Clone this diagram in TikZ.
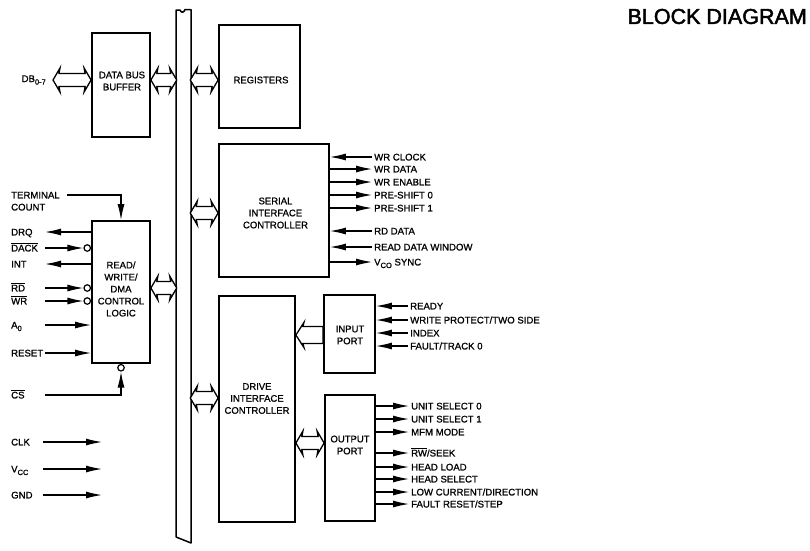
\documentclass[tikz,border=0pt]{standalone}
\usepackage{fontspec}
\setmainfont{Liberation Sans}[FakeBold=1.0]
\newfontfamily\titlefont{Liberation Sans}[FakeBold=2.2]
\usetikzlibrary{arrows.meta,calc}
\newcommand\ovl[1]{$\overline{\mbox{#1}}$}
\newcommand\lsub[1]{\raisebox{-0.5ex}{\fontsize{7.5}{8}\selectfont #1}}
\tikzset{
 box/.style={draw, line width=1.8pt, inner sep=0pt},
 btxt/.style={align=center, font=\fontsize{9.5}{12}\selectfont, inner sep=0pt},
 lbl/.style={anchor=west, font=\fontsize{9.6}{11}\selectfont, inner xsep=2pt, inner ysep=0pt, text height=6.9pt, text depth=0pt},
 sig/.style={line width=1.2pt},
 ar/.style={-{Latex[length=16pt,width=7pt]}},
 arin/.style={{Latex[length=16pt,width=7pt]}-},
 arout/.style={-{Latex[length=16pt,width=7pt]}},
 bub/.style={circle, draw, line width=1.2pt, minimum size=6.5pt, inner sep=0pt, fill=white},
 hol/.style={draw, line width=1.3pt, fill=white, line join=miter},
}
\newcommand\dblarrow[2]{\path[hol] let \p1=#1, \p2=#2 in (\x1,\y1) -- (\x1+7pt,\y1+12pt) -- (\x1+6pt,\y1+6.5pt) -- (\x2-6pt,\y1+6.5pt) -- (\x2-7pt,\y1+12pt) -- (\x2,\y1) -- (\x2-7pt,\y1-12pt) -- (\x2-6pt,\y1-6.5pt) -- (\x1+6pt,\y1-6.5pt) -- (\x1+7pt,\y1-12pt) -- cycle;}
\newcommand\sglarrow[2]{\path[hol] let \p1=#1, \p2=#2 in (\x1,\y1) -- (\x1+8pt,\y1+12.5pt) -- (\x1+7pt,\y1+8.5pt) -- (\x2,\y1+8.5pt) -- (\x2,\y1-8.5pt) -- (\x1+7pt,\y1-8.5pt) -- (\x1+8pt,\y1-12.5pt) -- cycle;}
\begin{document}
\begin{tikzpicture}[x=1pt,y=-1pt]
\useasboundingbox (0,0) rectangle (810,550);
% title
\node[anchor=east, font=\titlefont\fontsize{21.5}{24}\selectfont, inner sep=0pt] (title) at (807,16.5) {BLOCK DIAGRAM};
% bus
\draw[line width=1.5pt, line join=round] (176,537) -- (176,10) -- (180,10) .. controls (181,13) and (184,13) .. (185,9.5) -- (191,9.5) -- (191,543) .. controls (186,541) and (180,538.5) .. (176,537);
\coordinate (busL) at (176.7,0);
\coordinate (busR) at (190.3,0);
% boxes
\node[box, minimum width=58pt, minimum height=104pt] (buf) at (121,85) {};
\node[box, minimum width=81pt, minimum height=103pt] (regs) at (259.5,76.5) {};
\node[box, minimum width=110pt, minimum height=133pt] (sic) at (274,210.5) {};
\node[box, minimum width=76pt, minimum height=226pt] (dic) at (257,409) {};
\node[box, minimum width=51pt, minimum height=78pt] (inp) at (349.5,334) {};
\node[box, minimum width=50pt, minimum height=126pt] (outp) at (350,458) {};
\node[box, minimum width=58pt, minimum height=142pt] (rw) at (121,292) {};
% box texts
\node[btxt] (buft) at (122,81) {DATA BUS\\BUFFER};
\node[btxt] (regst) at (261,80) {REGISTERS};
\node[btxt] (sict) at (275.5,213) {SERIAL\\INTERFACE\\CONTROLLER};
\node[btxt] (dict) at (257,398.5) {DRIVE\\INTERFACE\\CONTROLLER};
\node[btxt] (inpt) at (350,335) {INPUT\\PORT};
\node[btxt] (outpt) at (350,445) {OUTPUT\\PORT};
\node[btxt] (rwt) at (121,289) {READ/\\WRITE/\\DMA\\CONTROL\\LOGIC};
% hollow bus arrows
\coordinate (y80) at (0,80);
\coordinate (y213) at (0,213);
\coordinate (y288) at (0,288);
\coordinate (y398) at (0,398);
\coordinate (y443) at (0,443);
\coordinate (y335) at (0,335);
\coordinate (dbT) at (53,80);
\dblarrow{(dbT)}{(buf.west |- dbT)}
\dblarrow{(buf.east |- y80)}{(busL |- y80)}
\dblarrow{(busR |- y80)}{(regs.west |- y80)}
\dblarrow{(busR |- y213)}{(sic.west |- y213)}
\dblarrow{(rw.east |- y288)}{(busL |- y288)}
\dblarrow{(busR |- y398)}{(dic.west |- y398)}
\dblarrow{(dic.east |- y443)}{(outp.west |- y443)}
\sglarrow{(dic.east |- y335)}{(inp.west |- y335)}
\node[anchor=east, font=\fontsize{9.6}{11}\selectfont, inner sep=0pt] (db) at (46,80) {DB\lsub{0-7}};
% serial interface signals
\foreach \n/\y/\t/\d in {1/157/{WR CLOCK}/arin, 2/169/{WR DATA}/arout, 3/182/{WR ENABLE}/arout, 4/195/{PRE-SHIFT 0}/arout, 5/208/{PRE-SHIFT 1}/arout, 6/231/{RD DATA}/arin, 7/247/{READ DATA WINDOW}/arin, 8/262/{V\lsub{CO} SYNC}/arout}{
  \node[lbl] (s\n) at (372,\y) {\t};
  \draw[sig,\d] (sic.east |- s\n.west) -- (s\n.west);
}
% input port signals
\foreach \n/\y/\t in {1/306/{READY}, 2/320/{WRITE PROTECT/TWO SIDE}, 3/333/{INDEX}, 4/346/{FAULT/TRACK 0}}{
  \node[lbl] (i\n) at (408,\y) {\t};
  \draw[sig,ar] (i\n.west) -- (inp.east |- i\n.west);
}
% output port signals
\foreach \n/\y/\t in {1/406/{UNIT SELECT 0}, 2/419/{UNIT SELECT 1}, 3/432/{MFM MODE}, 4/453/{\ovl{RW}/SEEK}, 5/467/{HEAD LOAD}, 6/479/{HEAD SELECT}, 7/492/{LOW CURRENT/DIRECTION}, 8/504/{FAULT RESET/STEP}}{
  \node[lbl] (o\n) at (409,\y) {\t};
  \draw[sig,ar] (outp.east |- o\n.west) -- (o\n.west);
}
% left signals
\node[lbl] (tc1) at (9,195) {TERMINAL};
\node[lbl] (tc2) at (9,207) {COUNT};
\node[lbl] (drq) at (9,232) {DRQ};
\node[lbl] (dack) at (9,248) {\ovl{DACK}};
\node[lbl] (int) at (9,264) {INT};
\node[lbl] (rd) at (9,288) {\ovl{RD}};
\node[lbl] (wr) at (9,301) {\ovl{WR}};
\node[lbl] (a0) at (9,325) {A\lsub{0}};
\node[lbl] (reset) at (9,353) {RESET};
\node[lbl] (cs) at (9,395) {\ovl{CS}};
\node[lbl] (clk) at (9,442) {CLK};
\node[lbl] (vcc) at (9,469) {V\lsub{CC}};
\node[lbl] (gnd) at (9,495) {GND};
\coordinate (tcS) at (67,195);
\coordinate (drqS) at (45,232);
\coordinate (dackS) at (45,248);
\coordinate (intS) at (45,264);
\coordinate (rdS) at (45,288);
\coordinate (wrS) at (45,301);
\coordinate (a0S) at (45,325);
\coordinate (resetS) at (45,353);
\coordinate (csS) at (45,395);
\node[bub, anchor=east] (dackB) at (rw.west |- dackS) {};
\node[bub, anchor=east] (rdB) at (rw.west |- rdS) {};
\node[bub, anchor=east] (wrB) at (rw.west |- wrS) {};
\node[bub, anchor=north] (csB) at (rw.south) {};
\draw[sig,ar] (tcS) -| (rw.north);
\draw[sig,ar] (rw.west |- drqS) -- (drqS);
\draw[sig,ar] (dackS) -- (dackB.west);
\draw[sig,ar] (rw.west |- intS) -- (intS);
\draw[sig,ar] (rdS) -- (rdB.west);
\draw[sig,ar] (wrS) -- (wrB.west);
\draw[sig,ar] (a0S) -- (rw.west |- a0S);
\draw[sig,ar] (resetS) -- (rw.west |- resetS);
\draw[sig,ar] (csS) -| (csB.south);
\coordinate (clkS) at (43,442);
\coordinate (clkE) at (102,442);
\coordinate (vccS) at (43,469);
\coordinate (vccE) at (102,469);
\coordinate (gndS) at (43,495);
\coordinate (gndE) at (102,495);
\draw[sig,ar] (clkS) -- (clkE);
\draw[sig,ar] (vccS) -- (vccE);
\draw[sig,ar] (gndS) -- (gndE);
\end{tikzpicture}
\end{document}
